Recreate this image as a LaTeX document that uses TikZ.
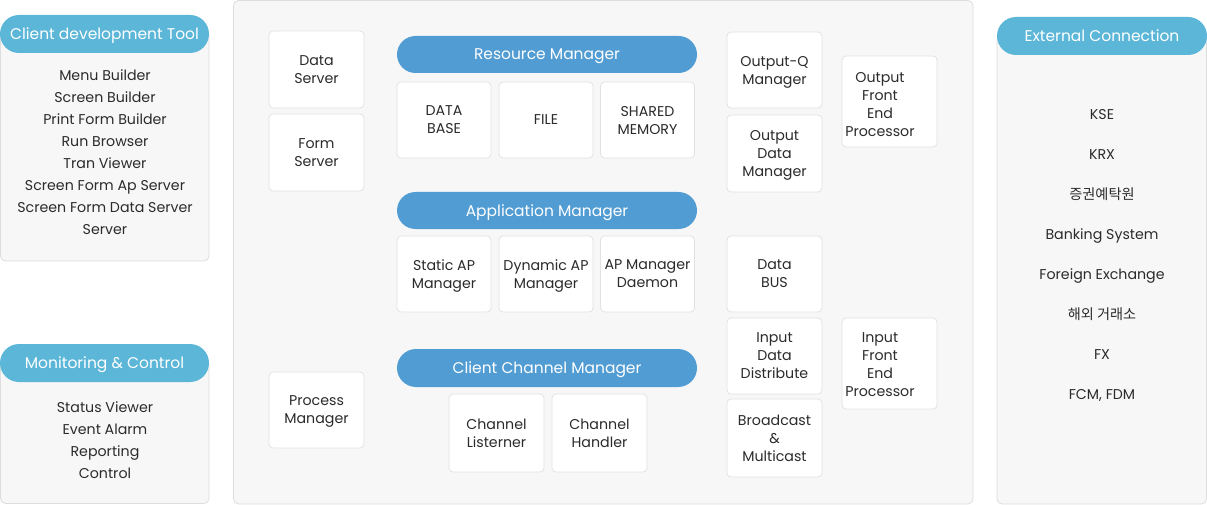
\documentclass[tikz,border=0pt]{standalone}
\usepackage{fontspec}
\setmainfont{Poppins}
\newfontfamily\kr{Noto Sans CJK KR}
\definecolor{panelfill}{HTML}{F7F7F7}
\definecolor{panelline}{HTML}{DDDDDD}
\definecolor{boxline}{HTML}{E2E2E2}
\definecolor{hdrA}{HTML}{5BB6D8}
\definecolor{hdrB}{HTML}{509CD3}
\definecolor{txt}{HTML}{2B2B2B}
\tikzset{
  panel/.style={draw=panelline, fill=panelfill, line width=0.8pt, rounded corners=5pt},
  hdrpill/.style={fill=hdrA, draw=none, rounded corners=19pt, text=white, font=\fontsize{15.5}{17}\selectfont, inner sep=0pt, text height=11pt, text depth=0pt},
  mgrpill/.style={fill=hdrB, draw=none, rounded corners=18.5pt, minimum width=300pt, minimum height=37pt, text=white, font=\fontsize{15.5}{17}\selectfont, inner sep=0pt, text height=11pt, text depth=0pt},
  cbox/.style={draw=boxline, fill=white, line width=0.8pt, rounded corners=4pt, minimum width=95pt, minimum height=77pt, align=center, text=txt, font=\fontsize{14.2}{18}\selectfont, inner sep=0pt, text depth=0pt},
  listtxt/.style={align=center, text=txt, font=\fontsize{14.2}{22}\selectfont, inner sep=0pt, text depth=0pt},
}
\begin{document}
\begin{tikzpicture}[x=1pt,y=-1pt]
\useasboundingbox (0,0) rectangle (1207,505);

% left panel 1
\path[panel] (0.5,30) rectangle (209,261);
\node[hdrpill, minimum width=209pt, minimum height=38pt] (cdt) at (104.5,34) {Client development Tool};
\node[listtxt] (cdtlist) at (105,152) {Menu Builder\\Screen Builder\\Print Form Builder\\Run Browser\\Tran Viewer\\Screen Form Ap Server\\Screen Form Data Server\\Server};

% left panel 2
\path[panel] (0.5,360) rectangle (209,503.5);
\node[hdrpill, minimum width=209pt, minimum height=38pt] (mc) at (104.5,363) {Monitoring \& Control};
\node[listtxt] (mclist) at (105,440) {Status Viewer\\Event Alarm\\Reporting\\Control};

% center panel
\path[panel] (233.5,0.5) rectangle (973,504);

\node[cbox] (ds) at (316.5,69.5) {Data\\Server};
\node[cbox] (fs) at (316.5,152.5) {Form\\Server};
\node[cbox, minimum height=76pt] (pm) at (316.5,410) {Process\\Manager};

\node[mgrpill] (rm) at (547,54.5) {Resource Manager};
\node[cbox, minimum width=94pt, minimum height=76pt] (db) at (444,120) {DATA\\BASE};
\node[cbox, minimum width=94pt, minimum height=76pt] (file) at (546,120) {FILE};
\node[cbox, minimum width=94pt, minimum height=76pt] (shm) at (647.5,120) {SHARED\\MEMORY};

\node[mgrpill] (am) at (547,210.5) {Application Manager};
\node[cbox, minimum width=94pt, minimum height=76pt] (sap) at (444,274) {Static AP\\Manager};
\node[cbox, minimum width=94pt, minimum height=76pt] (dap) at (546,274) {Dynamic AP\\Manager};
\node[cbox, minimum width=94pt, minimum height=76pt] (apd) at (647.5,274) {AP Manager\\Daemon};

\node[mgrpill, minimum height=38pt, rounded corners=19pt] (ccm) at (547,368) {Client Channel Manager};
\node[cbox, minimum height=78pt] (cl) at (496.5,433) {Channel\\Listerner};
\node[cbox, minimum height=78pt] (ch) at (599.5,433) {Channel\\Handler};

\node[cbox, minimum height=76pt] (oq) at (774.5,70) {Output-Q\\Manager};
\node[cbox] (odm) at (774.5,153.5) {Output\\Data\\Manager};
\node[cbox, minimum height=91pt] (ofep) at (889.5,101.5) {};
\node[listtxt, font=\fontsize{14.2}{18}\selectfont] (ofept) at (880,104) {Output\\Front\\End\\Processor};
\node[cbox, minimum height=76pt] (bus) at (774.5,274) {Data\\BUS};
\node[cbox, minimum height=76pt] (idd) at (774.5,356) {Input\\Data\\Distribute};
\node[cbox, minimum height=78pt] (bm) at (774.5,438) {Broadcast\\\&\\Multicast};
\node[cbox, minimum height=91pt] (ifep) at (889.5,363.5) {};
\node[listtxt, font=\fontsize{14.2}{18}\selectfont] (ifept) at (880,365) {Input\\Front\\End\\Processor};

% external panel
\path[panel] (997,35) rectangle (1206.5,504);
\node[hdrpill, minimum width=210pt, minimum height=38pt] (ec) at (1102,36) {External Connection};
\node[listtxt, font=\fontsize{14.2}{40}\selectfont] (eclist) at (1102,254) {KSE\\KRX\\{\kr 증권예탁원}\\Banking System\\Foreign Exchange\\{\kr 해외 거래소}\\FX\\FCM, FDM};
\end{tikzpicture}
\end{document}
